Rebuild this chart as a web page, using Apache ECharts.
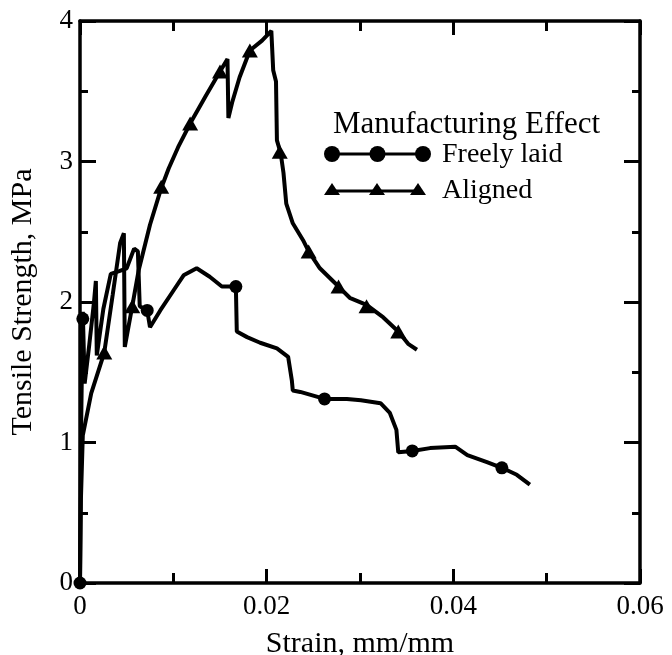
<!DOCTYPE html>
<html>
<head>
<meta charset="utf-8">
<script src="https://cdn.jsdelivr.net/npm/echarts@6/dist/echarts.min.js"></script>
<style>html,body{margin:0;padding:0;background:#fff}#c{width:672px;height:655px}</style>
</head>
<body>
<div id="c"></div>
<script>
// Strain (mm/mm), Tensile strength (MPa)
var freelyCurve = [[0,0],[0.00005,0.5],[0.0001,1.0],[0.0002,1.5],[0.0003,1.93],[0.0005,1.42],[0.0010,1.7],[0.0015,2.0],[0.0017,2.15],[0.0018,1.62],[0.0025,1.95],[0.0033,2.2],[0.0042,2.22],[0.0050,2.24],[0.0058,2.38],[0.0062,2.36],[0.0064,1.97],[0.0072,1.94],[0.0075,1.82],[0.0086,1.94],[0.0100,2.08],[0.0111,2.19],[0.0125,2.24],[0.0139,2.18],[0.0152,2.11],[0.0167,2.11],[0.0168,1.79],[0.0179,1.75],[0.0193,1.71],[0.0211,1.67],[0.0223,1.61],[0.0227,1.44],[0.0228,1.37],[0.0236,1.36],[0.0262,1.31],[0.0286,1.31],[0.0301,1.30],[0.0322,1.28],[0.0332,1.21],[0.0339,1.09],[0.0341,0.93],[0.0356,0.94],[0.0375,0.96],[0.0402,0.97],[0.0415,0.91],[0.0436,0.86],[0.0452,0.82],[0.0468,0.77],[0.0482,0.70]];
var freelyMarkers = [[0,0],[0.0003,1.88],[0.0072,1.94],[0.0167,2.11],[0.0262,1.31],[0.0356,0.94],[0.0452,0.82]];
var alignedCurve = [[0,0],[0.0001,0.6],[0.0003,1.05],[0.0012,1.35],[0.0026,1.64],[0.0035,2.05],[0.0043,2.42],[0.0047,2.49],[0.0048,1.68],[0.0056,1.97],[0.0063,2.23],[0.0075,2.55],[0.0087,2.81],[0.0095,2.95],[0.0105,3.1],[0.0118,3.27],[0.0135,3.47],[0.0150,3.64],[0.0158,3.73],[0.0159,3.31],[0.0163,3.42],[0.0171,3.60],[0.0182,3.79],[0.0195,3.86],[0.0205,3.93],[0.0207,3.65],[0.0210,3.57],[0.0211,3.15],[0.0215,3.06],[0.0218,2.92],[0.0221,2.70],[0.0228,2.56],[0.0239,2.44],[0.0245,2.36],[0.0257,2.24],[0.0277,2.11],[0.0289,2.03],[0.0307,1.98],[0.0325,1.89],[0.0341,1.79],[0.0352,1.70],[0.0361,1.66]];
var alignedMarkers = [[0.0026,1.64],[0.0056,1.97],[0.0087,2.82],[0.0118,3.27],[0.0150,3.64],[0.0182,3.79],[0.0214,3.07],[0.0245,2.36],[0.0277,2.11],[0.0307,1.97],[0.0341,1.79]];
var xTicks = [0, 0.02, 0.04, 0.06];
var yTicks = [0, 1, 2, 3, 4];
var xName = 'Strain, mm/mm';
var yName = 'Tensile Strength, MPa';
var legendTitle = 'Manufacturing Effect';
var seriesNames = ['Freely laid', 'Aligned'];

var FONT = 'Liberation Serif';
var chart = echarts.init(document.getElementById('c'));
var axisLine = {onZero:false,lineStyle:{color:'#000',width:3.5}};
function xAxis(pos, show){
  return {type:'value', position:pos, min:xTicks[0], max:xTicks[xTicks.length-1], interval:xTicks[1]-xTicks[0],
    axisLine:axisLine, splitLine:{show:false},
    axisTick:{inside:true,length:14,lineStyle:{width:3,color:'#000'}},
    minorTick:{show:true,splitNumber:2,length:10,lineStyle:{width:3,color:'#000'}},
    axisLabel:{show:show,color:'#000',fontFamily:FONT,fontSize:27,margin:10,
      formatter:function(v){return String(parseFloat(v.toFixed(2)));}},
    name: show ? xName : '', nameLocation:'middle', nameGap:46,
    nameTextStyle:{color:'#000',fontFamily:FONT,fontSize:30}};
}
function yAxis(pos, show){
  return {type:'value', position:pos, min:yTicks[0], max:yTicks[yTicks.length-1], interval:yTicks[1]-yTicks[0],
    axisLine:axisLine, splitLine:{show:false},
    axisTick:{inside:true,length:16,lineStyle:{width:3,color:'#000'}},
    minorTick:{show:true,splitNumber:2,length:8,lineStyle:{width:3,color:'#000'}},
    axisLabel:{show:show,color:'#000',fontFamily:FONT,fontSize:27,margin:7},
    name: show ? yName : '', nameLocation:'middle', nameGap:42,
    nameTextStyle:{color:'#000',fontFamily:FONT,fontSize:30}};
}
var lx = 332, lx2 = 423;
chart.setOption({
  animation:false,
  backgroundColor:'#fff',
  grid:{left:80,right:32,top:21,bottom:72,containLabel:false,outerBoundsMode:'none'},
  xAxis:[xAxis('bottom',true), xAxis('top',false)],
  yAxis:[yAxis('left',true), yAxis('right',false)],
  series:[
    {name:seriesNames[0],type:'line',data:freelyCurve,symbol:'none',lineStyle:{color:'#000',width:4},z:3},
    {name:seriesNames[0],type:'scatter',data:freelyMarkers,symbol:'circle',symbolSize:13,itemStyle:{color:'#000',opacity:1},clip:false,z:4},
    {name:seriesNames[1],type:'line',data:alignedCurve,symbol:'none',lineStyle:{color:'#000',width:4},z:3},
    {name:seriesNames[1],type:'scatter',data:alignedMarkers,symbol:'triangle',symbolSize:[16,14],itemStyle:{color:'#000',opacity:1},clip:false,z:4}
  ],
  graphic:[
    {type:'text',left:333,top:109,style:{text:legendTitle,fill:'#000',font:'31px "Liberation Serif"'}},
    {type:'line',shape:{x1:lx,y1:154,x2:lx2,y2:154},style:{stroke:'#000',lineWidth:3}},
    {type:'circle',shape:{cx:lx,cy:154,r:8},style:{fill:'#000'}},
    {type:'circle',shape:{cx:(lx+lx2)/2,cy:154,r:8},style:{fill:'#000'}},
    {type:'circle',shape:{cx:lx2,cy:154,r:8},style:{fill:'#000'}},
    {type:'text',left:442,top:141,style:{text:seriesNames[0],fill:'#000',font:'28px "Liberation Serif"'}},
    {type:'line',shape:{x1:lx,y1:191,x2:lx2-4,y2:191},style:{stroke:'#000',lineWidth:3}},
    {type:'polygon',shape:{points:[[lx,183],[lx-8,195],[lx+8,195]]},style:{fill:'#000'}},
    {type:'polygon',shape:{points:[[377,183],[369,195],[385,195]]},style:{fill:'#000'}},
    {type:'polygon',shape:{points:[[418,183],[410,195],[426,195]]},style:{fill:'#000'}},
    {type:'text',left:442,top:177,style:{text:seriesNames[1],fill:'#000',font:'28px "Liberation Serif"'}}
  ]
});
</script>
</body>
</html>
